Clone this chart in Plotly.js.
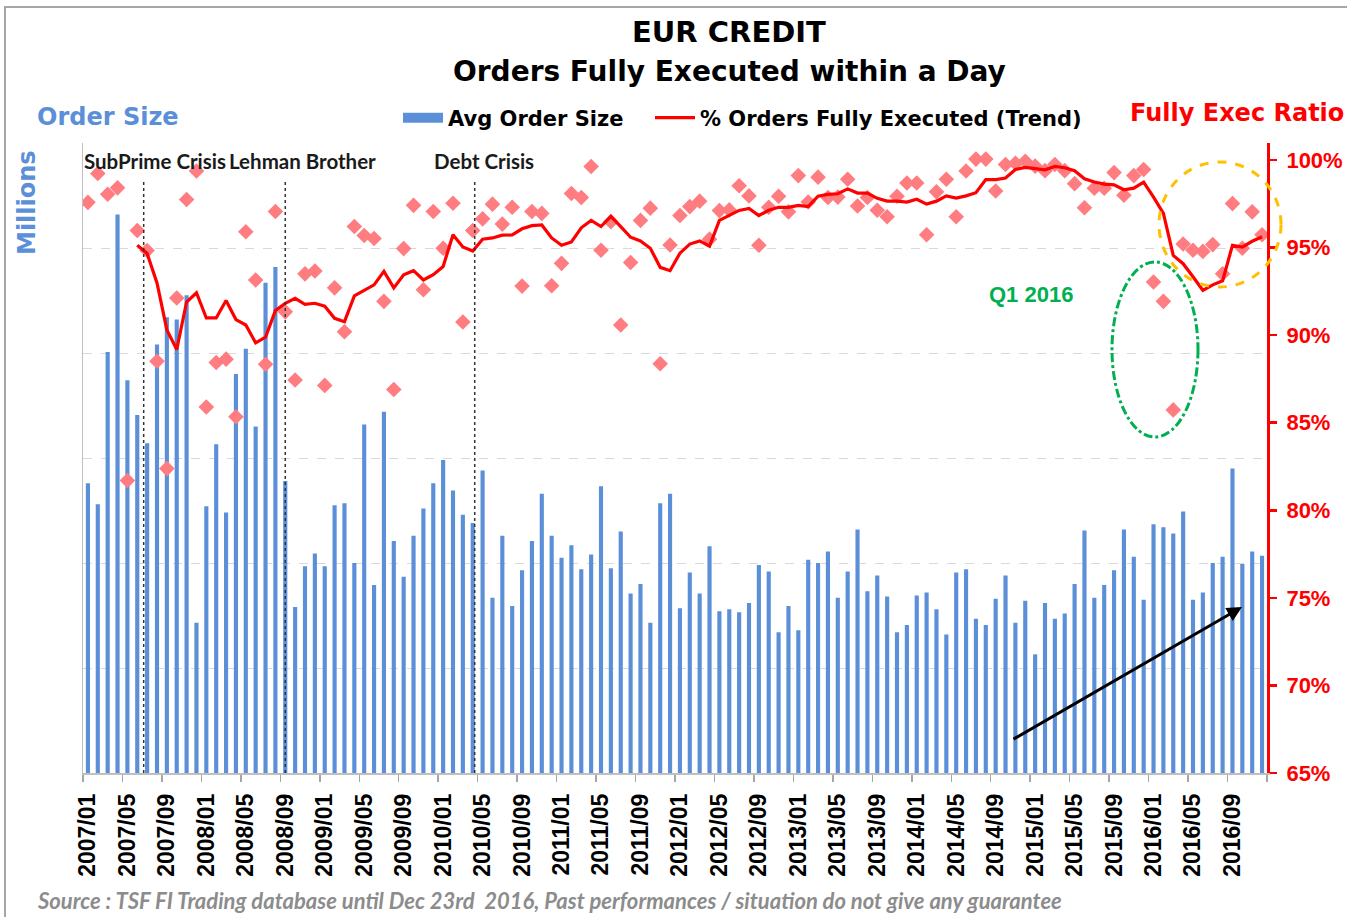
<!DOCTYPE html>
<html><head><meta charset="utf-8">
<script src="https://cdn.plot.ly/plotly-3.0.1.min.js"></script>
<style>html,body{margin:0;padding:0;background:#fff;}#chart{width:1347px;height:917px;}</style>
</head><body><div id="chart"></div>
<script>
// ---- categories (months 2007/01 .. 2016/12) ----
const months = [];
for (let y = 2007; y <= 2016; y++) for (let m = 1; m <= 12; m++) months.push(y + '/' + String(m).padStart(2, '0'));

const tickLabels = ['2007/01','2007/05','2007/09','2008/01','2008/05','2008/09','2009/01','2009/05','2009/09','2010/01',
  '2010/05','2010/09','2011/01','2011/05','2011/09','2012/01','2012/05','2012/09','2013/01','2013/05',
  '2013/09','2014/01','2014/05','2014/09','2015/01','2015/05','2015/09','2016/01','2016/05','2016/09'];

// Avg order size (millions), one per month
const avgOrderSize = [
  2.76,2.56,4.01,5.32,3.74,3.41,3.14,4.08,4.34,4.32,4.55,1.43,
  2.54,3.13,2.48,3.80,4.04,3.30,4.67,4.82,2.78,1.58,1.97,2.09,
  1.97,2.55,2.57,2.00,3.32,1.79,3.44,2.21,1.87,2.26,2.52,2.76,
  2.98,2.69,2.46,2.38,2.88,1.67,2.26,1.59,1.93,2.21,2.66,2.26,
  2.05,2.17,1.94,2.08,2.73,1.95,2.30,1.71,1.80,1.43,2.57,2.66,
  1.57,1.91,1.71,2.16,1.54,1.56,1.53,1.62,1.98,1.92,1.34,1.59,
  1.36,2.03,2.00,2.11,1.67,1.92,2.32,1.73,1.88,1.68,1.34,1.41,
  1.69,1.72,1.56,1.32,1.91,1.94,1.47,1.41,1.66,1.88,1.43,1.64,
  1.13,1.62,1.47,1.52,1.80,2.31,1.67,1.79,1.93,2.32,2.06,1.65,
  2.37,2.34,2.28,2.49,1.65,1.72,2.00,2.06,2.90,1.99,2.11,2.07
];

// Monthly % of orders fully executed (diamonds)
const fullyExecRatio = [
  97.58,99.23,98.04,98.41,81.70,95.97,94.83,88.51,82.38,92.12,97.74,99.37,
  85.90,88.44,88.63,85.34,95.90,93.15,88.34,97.06,91.33,87.44,93.50,93.66,
  87.13,92.70,90.19,96.20,95.69,95.52,91.93,86.90,94.94,97.41,92.59,97.06,
  94.96,97.53,90.75,95.97,96.64,97.48,96.34,97.30,92.80,97.06,96.95,92.82,
  94.10,98.09,97.86,99.63,94.85,96.48,90.58,94.15,96.55,97.25,88.37,95.15,
  96.83,97.34,97.65,95.48,97.11,97.15,98.53,97.95,95.13,97.30,97.93,97.04,
  99.11,97.60,99.02,97.86,97.88,98.90,97.37,97.86,97.13,96.76,97.93,98.69,
  98.69,95.73,98.18,98.90,96.76,99.37,100.05,100.05,98.23,99.74,99.81,99.93,
  99.65,99.39,99.74,99.39,98.65,97.27,98.39,98.39,99.28,97.99,99.11,99.46,
  93.03,91.93,85.73,95.20,94.85,94.78,95.17,93.50,97.51,94.96,97.04,95.73
];

// Trend line (starts 2007/06)
const fullyExecTrend = [
  null,null,null,null,null,95.13,94.66,92.98,90.30,89.18,91.89,92.42,
  90.98,90.98,91.98,90.89,90.58,89.56,89.88,91.40,91.82,92.10,91.76,91.82,
  91.65,90.96,90.77,92.24,92.56,92.87,93.64,92.70,93.45,93.68,93.15,93.45,
  93.92,95.73,95.03,94.80,95.48,95.55,95.71,95.72,96.07,96.25,96.29,95.55,
  95.13,95.32,96.13,96.55,96.20,96.78,96.20,95.59,95.38,94.96,93.87,93.68,
  94.68,95.20,95.38,95.08,96.55,96.86,97.12,97.23,96.83,97.13,97.30,97.30,
  97.41,97.34,97.93,98.04,98.07,98.35,98.11,98.11,97.81,97.65,97.65,97.60,
  97.76,97.48,97.65,97.95,97.83,97.95,98.13,98.88,98.88,98.97,99.46,99.58,
  99.51,99.44,99.63,99.56,99.39,98.93,98.74,98.62,98.58,98.30,98.39,98.74,
  97.88,96.95,94.55,94.08,93.33,92.56,92.87,93.10,95.13,95.03,95.36,95.62
];

const eventLabels = ['SubPrime Crisis', 'Lehman Brother', 'Debt Crisis'];
const eventLinePos = [5.65, 20.0, 39.2];   // position on the month axis

const xIdx = months.map((_, i) => i);
const tickVals = tickLabels.map(t => months.indexOf(t));
const boundaryTicks = [];
for (let v = -0.5; v <= 119.5; v += 4) boundaryTicks.push(v);

const BLUE = '#5B8FD8';
const RED = '#FF0000';
const DV = 'DejaVu Sans, Liberation Sans, sans-serif';
const LS = 'Liberation Sans, Arial, sans-serif';

const barTrace = { type: 'bar', x: xIdx, y: avgOrderSize, name: 'Avg Order Size', marker: { color: BLUE },
  yaxis: 'y', showlegend: false, legendgroup: 'size' };
// legend swatch for the bars (wide rectangle, as in the original legend)
const barLegend = { type: 'scatter', mode: 'lines', x: [null], y: [null], name: 'Avg Order Size', yaxis: 'y',
  line: { color: BLUE, width: 11 }, legendgroup: 'size', showlegend: true, hoverinfo: 'skip', legend: 'legend' };
const trendTrace = { type: 'scatter', mode: 'lines', x: xIdx, y: fullyExecTrend, name: '% Orders Fully Executed (Trend)', yaxis: 'y2',
  line: { color: RED, width: 3.2 }, connectgaps: false, legend: 'legend2' };
const ratioTrace = { type: 'scatter', mode: 'markers', x: xIdx, y: fullyExecRatio, name: '% Orders Fully Executed', yaxis: 'y2',
  marker: { symbol: 'diamond', size: 12, color: '#FF7C80' }, showlegend: false };
const data = [barTrace, barLegend, ratioTrace, trendTrace];

// plot area in px: x 83..1267, y 143..773
const L = 83, R = 1267, T = 143, B = 773;
const px = v => (v - L) / (R - L);
const py = v => (B - v) / (B - T);

const shapes = eventLinePos.map(p => ({
  type: 'line', xref: 'x', yref: 'y', x0: p, x1: p, y0: 0, y1: 5.64,
  line: { color: '#333', width: 1.5, dash: 'dot' }
}));
shapes.push({ type: 'circle', xref: 'paper', yref: 'paper', x0: px(1112), x1: px(1198), y0: py(437), y1: py(262),
  line: { color: '#00B050', width: 3, dash: 'dashdot' } });
shapes.push({ type: 'circle', xref: 'paper', yref: 'paper', x0: px(1159), x1: px(1281), y0: py(287), y1: py(162),
  line: { color: '#FFC000', width: 3, dash: 'dash' } });
shapes.push({ type: 'rect', xref: 'paper', yref: 'paper', x0: px(5), x1: px(1365), y0: py(935), y1: py(7),
  line: { color: '#A6A6A6', width: 2 }, layer: 'below' });

const ann = [];
const evX = [82, 227, 432];
eventLabels.forEach((t, i) => ann.push({ text: t, xref: 'paper', yref: 'paper', x: px(evX[i]), y: py(161),
  xanchor: 'left', yanchor: 'middle', showarrow: false, font: { family: 'Lato, sans-serif', size: 20.5, weight: 'bold', color: '#1a1a1a' } }));
ann.push({ text: 'EUR CREDIT', xref: 'paper', yref: 'paper', x: px(729), y: py(32), xanchor: 'center', yanchor: 'middle',
  showarrow: false, font: { family: DV, size: 29, weight: 'bold', color: '#000' } });
ann.push({ text: 'Orders Fully Executed within a Day', xref: 'paper', yref: 'paper', x: px(729), y: py(72), xanchor: 'center', yanchor: 'middle',
  showarrow: false, font: { family: DV, size: 28, weight: 'bold', color: '#000' } });
ann.push({ text: 'Order Size', xref: 'paper', yref: 'paper', x: px(35), y: py(117), xanchor: 'left', yanchor: 'middle',
  showarrow: false, font: { family: DV, size: 24, weight: 'bold', color: BLUE } });
ann.push({ text: 'Millions', xref: 'paper', yref: 'paper', x: px(27), y: py(203), xanchor: 'center', yanchor: 'middle', textangle: -90,
  showarrow: false, font: { family: DV, size: 24, weight: 'bold', color: BLUE } });
ann.push({ text: 'Fully Exec Ratio', xref: 'paper', yref: 'paper', x: px(1128), y: py(113), xanchor: 'left', yanchor: 'middle',
  showarrow: false, font: { family: DV, size: 24, weight: 'bold', color: RED } });
ann.push({ text: 'Q1 2016', xref: 'paper', yref: 'paper', x: px(1031), y: py(294), xanchor: 'center', yanchor: 'middle',
  showarrow: false, font: { family: LS, size: 22, weight: 'bold', color: '#00B050' } });
ann.push({ text: 'Source : TSF FI Trading database until Dec 23rd  2016, Past performances / situation do not give any guarantee',
  xref: 'paper', yref: 'paper', x: px(35), y: py(900), xanchor: 'left', yanchor: 'middle',
  showarrow: false, font: { family: 'Lato, sans-serif', size: 22, style: 'italic', weight: 'bold', color: '#8C8C8C' } });
ann.push({ text: '', xref: 'paper', yref: 'paper', x: px(1242), y: py(607), ax: 1012 - 1242, ay: 740 - 607,
  showarrow: true, arrowhead: 2, arrowsize: 1, arrowwidth: 3, arrowcolor: '#000' });

const legendFont = { family: DV, size: 21, weight: 'bold', color: '#000' };

const layout = {
  width: 1347, height: 917,
  margin: { l: L, r: 1347 - R, t: T, b: 917 - B, pad: 0 },
  paper_bgcolor: '#fff', plot_bgcolor: '#fff',
  bargap: 0.58,
  showlegend: true,
  legend: { orientation: 'h', x: px(398), xanchor: 'left', y: py(118), yanchor: 'middle',
    font: legendFont, itemwidth: 40, bgcolor: 'rgba(0,0,0,0)' },
  legend2: { orientation: 'h', x: px(650), xanchor: 'left', y: py(118), yanchor: 'middle',
    font: legendFont, itemwidth: 40, bgcolor: 'rgba(0,0,0,0)' },
  xaxis: {
    range: [-0.5, 119.5], tickmode: 'array', tickvals: tickVals, ticktext: tickLabels, tickangle: -90,
    ticks: '', ticklabelstandoff: 10, tickfont: { family: LS, size: 23, weight: 'bold', color: '#000' },
    showline: true, linecolor: '#BFBFBF', linewidth: 1.5, zeroline: false, showgrid: false,
    minor: { tickmode: 'array', tickvals: boundaryTicks, ticks: 'outside', ticklen: 7, tickcolor: '#A6A6A6', tickwidth: 1.5, showgrid: false }
  },
  yaxis: {
    range: [0, 6], dtick: 1, showticklabels: false, ticks: '', showgrid: true, gridcolor: '#D9D9D9',
    griddash: 'dash', gridwidth: 1, zeroline: false, showline: true, linecolor: '#BFBFBF', linewidth: 1.5
  },
  yaxis2: {
    overlaying: 'y', side: 'right', range: [65, 100.97], tickmode: 'array',
    tickvals: [65, 70, 75, 80, 85, 90, 95, 100], ticktext: ['65%','70%','75%','80%','85%','90%','95%','100%'],
    ticks: 'outside', ticklen: 7, tickwidth: 2.5, tickcolor: RED, showline: true, linecolor: RED, linewidth: 3,
    showgrid: false, zeroline: false, ticklabelstandoff: 5, tickfont: { family: LS, size: 22, weight: 'bold', color: RED }
  },
  shapes: shapes,
  annotations: ann
};

Plotly.newPlot('chart', data, layout, { displayModeBar: false, staticPlot: true });
</script>
</body></html>
